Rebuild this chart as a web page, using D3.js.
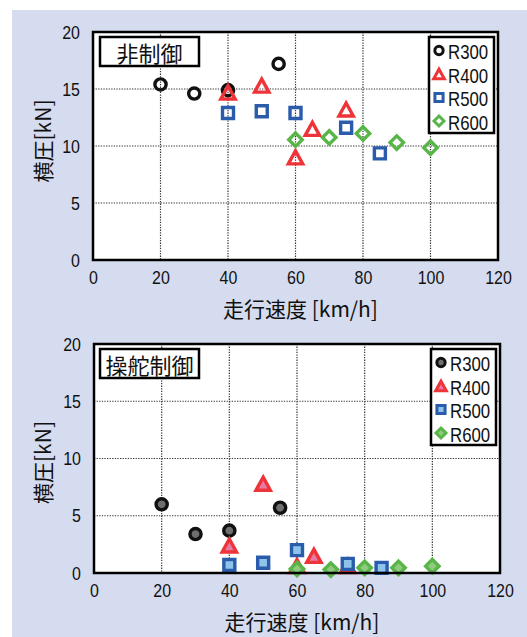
<!DOCTYPE html>
<html>
<head>
<meta charset="utf-8">
<script src="https://cdn.jsdelivr.net/npm/d3@7"></script>
<style>
body { margin: 0; background: #fff; }
svg text { font-family: "Liberation Sans", Arial, sans-serif; fill: #111; }
.jp { font-family: "Noto Sans CJK JP", sans-serif; }
</style>
</head>
<body>
<div id="chart"></div>
<script>
// data
var series = ["R300", "R400", "R500", "R600"];
var speed300 = [20, 30, 40, 55];
var speed400 = [40, 50, 60, 65, 75];
var speed500 = [40, 50, 60, 75, 85];
var speed600 = [60, 70, 80, 90, 100];
// 非制御 (no control)
var free300 = [15.4, 14.6, 14.9, 17.2];
var free400 = [14.7, 15.3, 9.0, 11.5, 13.2];
var free500 = [12.9, 13.05, 12.9, 11.6, 9.35];
var free600 = [10.55, 10.75, 11.1, 10.3, 9.85];
// 操舵制御 (steering control)
var steer300 = [6.0, 3.4, 3.7, 5.7];
var steer400 = [2.4, 7.8, 0.6, 1.5, 0.6];
var steer500 = [0.7, 0.9, 2.0, 0.8, 0.45];
var steer600 = [0.35, 0.3, 0.45, 0.45, 0.6];
var xTicks = [0, 20, 40, 60, 80, 100, 120];
var yTicks = [0, 5, 10, 15, 20];

var W = 527, H = 637;
var svg = d3.select("#chart").append("svg").attr("width", W).attr("height", H);

//light blue panel behind both charts
svg.append("rect").attr("x", 12).attr("y", 10).attr("width", W - 12).attr("height", H - 10)
  .style("fill", "#d5dcef");

//squeeze latin text to look like the narrow face of the original
function narrow(sel, k) {
  sel.each(function() {
    var w = this.getComputedTextLength();
    d3.select(this).attr("textLength", w * k).attr("lengthAdjust", "spacingAndGlyphs");
  });
}

//custom marker shapes (centered on bounding box)
var triShape = { draw: function(c, s) { var r = Math.sqrt(s);
  c.moveTo(0, -r * 0.5); c.lineTo(r * 0.55, r * 0.5); c.lineTo(-r * 0.55, r * 0.5); c.closePath(); } };
var sqShape = { draw: function(c, s) { var r = Math.sqrt(s) / 2;
  c.rect(-r, -r, 2 * r, 2 * r); } };
var diaShape = { draw: function(c, s) { var r = Math.sqrt(s) / 2;
  c.moveTo(0, -r); c.lineTo(r, 0); c.lineTo(0, r); c.lineTo(-r, 0); c.closePath(); } };
var shapes = [d3.symbolCircle, triShape, sqShape, diaShape];
var sizes = [Math.PI * 5.6 * 5.6, 170, 121, 180];
var strokes = ["#111111", "#ee3438", "#2a5cab", "#58b548"];
var fills = ["#6f6f6f", "#e77ba6", "#8ec3ea", "#8fcb7e"];

function panel(cfg) {
  var x = d3.scaleLinear().domain([0, 120]).range([cfg.left, cfg.right]);
  var y = d3.scaleLinear().domain([0, 20]).range([cfg.bottom, cfg.top]);
  var g = svg.append("g");

  g.append("rect").attr("x", cfg.left).attr("y", cfg.top)
    .attr("width", cfg.right - cfg.left).attr("height", cfg.bottom - cfg.top)
    .style("fill", "#fff");

  //dotted grid
  g.selectAll(".gx").data(xTicks.slice(1, -1)).enter().append("line")
    .attr("x1", function(d) { return x(d); }).attr("x2", function(d) { return x(d); })
    .attr("y1", cfg.top).attr("y2", cfg.bottom)
    .style("stroke", "#333").style("stroke-width", 1.2).style("stroke-dasharray", "1.3,1.3");
  g.selectAll(".gy").data(yTicks.slice(1, -1)).enter().append("line")
    .attr("y1", function(d) { return y(d); }).attr("y2", function(d) { return y(d); })
    .attr("x1", cfg.left).attr("x2", cfg.right)
    .style("stroke", "#333").style("stroke-width", 1.2).style("stroke-dasharray", "1.3,1.3");

  //axes (labels only)
  var ax = g.append("g").attr("transform", "translate(0," + cfg.bottom + ")")
    .call(d3.axisBottom(x).tickValues(xTicks).tickSize(0).tickPadding(11));
  ax.select(".domain").remove();
  ax.selectAll("text").attr("dy", "0.71em").style("font-size", "19px").style("font-family", null).call(narrow, 0.84);
  var ay = g.append("g").attr("transform", "translate(" + cfg.left + ",0)")
    .call(d3.axisLeft(y).tickValues(yTicks).tickSize(0).tickPadding(13));
  ay.select(".domain").remove();
  ay.selectAll("text").style("font-size", "19px").style("font-family", null).call(narrow, 0.84);

  //markers
  cfg.data.forEach(function(s, i) {
    var pts = s.x.map(function(v, j) { return { x: v, y: s.y[j] }; });
    g.selectAll(".m" + i).data(pts).enter().append("path")
      .attr("d", d3.symbol().type(shapes[i]).size(sizes[i]))
      .attr("transform", function(d) { return "translate(" + x(d.x) + "," + y(d.y) + ")"; })
      .style("fill", cfg.filled ? fills[i] : "none")
      .style("stroke", strokes[i]).style("stroke-width", 3.4);
  });

  //frame
  g.append("rect").attr("x", cfg.left).attr("y", cfg.top)
    .attr("width", cfg.right - cfg.left).attr("height", cfg.bottom - cfg.top)
    .style("fill", "none").style("stroke", "#000").style("stroke-width", 2.5);

  //inset title
  g.append("rect").attr("x", 100).attr("y", cfg.top + 5).attr("width", 99).attr("height", 29)
    .style("fill", "#fff").style("stroke", "#000").style("stroke-width", 2.5);
  g.append("text").attr("class", "jp").attr("x", 149.5).attr("y", cfg.top + 20)
    .attr("text-anchor", "middle").attr("dominant-baseline", "central")
    .style("font-size", "22px").text(cfg.title);

  //legend
  var lg = g.append("g").attr("transform", "translate(" + (cfg.right - 69) + "," + (cfg.top + 5) + ")");
  lg.append("rect").attr("width", 65).attr("height", 96)
    .style("fill", "#fff").style("stroke", "#000").style("stroke-width", 2.5);
  series.forEach(function(name, i) {
    var cy = 13.5 + i * 23.5;
    lg.append("path").attr("d", d3.symbol().type(shapes[i]).size(sizes[i] * 0.55))
      .attr("transform", "translate(10," + cy + ")")
      .style("fill", cfg.filled ? fills[i] : "none")
      .style("stroke", strokes[i]).style("stroke-width", 3);
    lg.append("text").attr("x", 19).attr("y", cy + 1).attr("dominant-baseline", "central")
      .style("font-size", "21px").text(name).call(narrow, 0.8);
  });

  //axis titles
  g.append("text").attr("class", "jp")
    .attr("transform", "translate(42," + ((cfg.top + cfg.bottom) / 2 + cfg.yTitleShift) + ") rotate(-90)")
    .attr("text-anchor", "middle").attr("dominant-baseline", "central")
    .style("font-size", "21px").text("横圧[kN]");
  g.append("text").attr("class", "jp")
    .attr("x", (cfg.left + cfg.right) / 2 + 5).attr("y", cfg.bottom + 48)
    .attr("text-anchor", "middle").attr("dominant-baseline", "central")
    .style("font-size", "21px").text("走行速度 [km/h]");
}

panel({ left: 93, right: 498, top: 32, bottom: 260, filled: false, title: "非制御", yTitleShift: -5,
  data: [{ x: speed300, y: free300 }, { x: speed400, y: free400 }, { x: speed500, y: free500 }, { x: speed600, y: free600 }] });
panel({ left: 94, right: 500, top: 344, bottom: 573, filled: true, title: "操舵制御", yTitleShift: 4,
  data: [{ x: speed300, y: steer300 }, { x: speed400, y: steer400 }, { x: speed500, y: steer500 }, { x: speed600, y: steer600 }] });
</script>
</body>
</html>
